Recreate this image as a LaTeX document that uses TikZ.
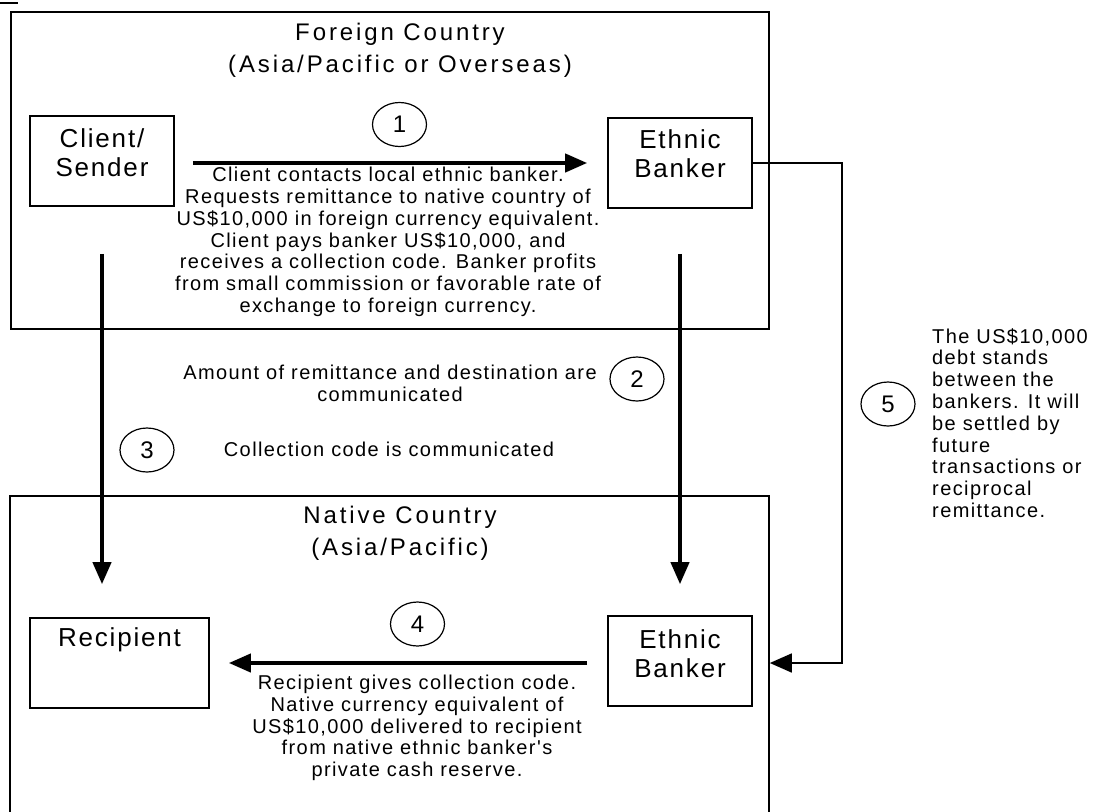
\documentclass[tikz,border=0pt]{standalone}
\usepackage{fontspec}
\setmainfont{Liberation Sans}
\newfontfamily\bodyfont[LetterSpace=7]{Liberation Sans}
\newfontfamily\labelfont[LetterSpace=7]{Liberation Sans}
\newfontfamily\titlefont[LetterSpace=12]{Liberation Sans}
\usetikzlibrary{arrows.meta,shapes.geometric,positioning}
\tikzstyle{region} = [draw,line width=1.6pt,inner sep=0pt]
\tikzstyle{box} = [draw,line width=1.6pt,inner sep=0pt]
\tikzstyle{stepno} = [ellipse,draw,line width=1.2pt,minimum width=54pt,minimum height=44pt,inner sep=0pt,font=\bodyfont\fontsize{24}{26}\selectfont]
\tikzstyle{flow} = [draw,line width=4pt,-{Triangle[length=22pt,width=18pt]}]
\tikzstyle{debt} = [draw,line width=1.6pt,-{Triangle[length=22pt,width=19pt]}]
\tikzstyle{note} = [align=center,inner sep=0pt,font=\bodyfont\fontsize{20}{21.8}\selectfont]
\tikzstyle{lbl} = [align=center,inner sep=0pt,font=\labelfont\fontsize{26}{29}\selectfont]
\tikzstyle{title} = [align=center,inner sep=0pt,font=\titlefont\fontsize{24}{32}\selectfont]

\begin{document}
\begin{tikzpicture}[x=1pt,y=-1pt]
				\clip (0,0) rectangle (1094,811);
				\draw[line width=1.6pt] (0,3) -- (18,3);

				% foreign country
				\node[region,minimum width=758pt,minimum height=317pt] (foreign) at (390,170.5) {};
				\node[title] (foreigntitle) at (400,50) {Foreign Country\\(Asia/Pacific or Overseas)};
				\node[box,minimum width=144pt,minimum height=90pt] (sender) at (102,161) {};
				\node[lbl] (senderlbl) at ([yshift=8.5pt]sender.center) {Client/\\Sender};
				\node[box,minimum width=144pt,minimum height=90pt] (banker1) at (680,163) {};
				\node[lbl] (banker1lbl) at ([yshift=9pt]banker1.center) {Ethnic\\Banker};
				\node[stepno] (n1) at (399.5,124.5) {1};
				\node[note] (t1) at (388,242) {Client contacts local ethnic banker.\\Requests remittance to native country of\\US\$10,000 in foreign currency equivalent.\\Client pays banker US\$10,000, and\\receives a collection code. Banker profits\\from small commission or favorable rate of\\exchange to foreign currency.};

				% native country
				\node[region,minimum width=759pt,minimum height=404pt] (native) at (389.5,698) {};
				\node[title] (nativetitle) at (400,533) {Native Country\\(Asia/Pacific)};
				\node[box,minimum width=179pt,minimum height=90pt] (recipient) at (119.5,663) {};
				\node[lbl] (recipientlbl) at ([yshift=23pt]recipient.center) {Recipient};
				\node[box,minimum width=144pt,minimum height=90pt] (banker2) at (680,661) {};
				\node[lbl] (banker2lbl) at ([yshift=7.5pt]banker2.center) {Ethnic\\Banker};
				\node[stepno] (n4) at (417.5,624) {4};
				\node[note] (t4) at (417,728) {Recipient gives collection code.\\Native currency equivalent of\\US\$10,000 delivered to recipient\\from native ethnic banker's\\private cash reserve.};

				% between
				\node[stepno] (n2) at (637,379) {2};
				\node[note] (t2) at (390,383.5) {Amount of remittance and destination are\\communicated};
				\node[stepno] (n3) at (147,450) {3};
				\node[note] (t3) at (389,449) {Collection code is communicated};
				\node[stepno] (n5) at (888,404) {5};
				\node[note,align=left,anchor=west] (t5) at (932,423) {The US\$10,000\\debt stands\\between the\\bankers.  It will\\be settled by\\future\\transactions or\\reciprocal\\remittance.};

				\coordinate (bend) at (842,663);
				\path[flow,shorten <=18pt,shorten >=20pt] (sender.east |- banker1.west) -- (banker1.west);
				\path[flow,shorten <=47pt,shorten >=33pt] (sender.south) -- (sender.south |- recipient.north);
				\path[flow,shorten <=45pt,shorten >=31pt] (banker1.south) -- (banker2.north);
				\path[flow,shorten <=20pt,shorten >=19pt] (banker2.west |- recipient.east) -- (recipient.east);
				\path[debt] (banker1.east) -| (bend) -- (bend -| native.east);
			\end{tikzpicture}
\end{document}
